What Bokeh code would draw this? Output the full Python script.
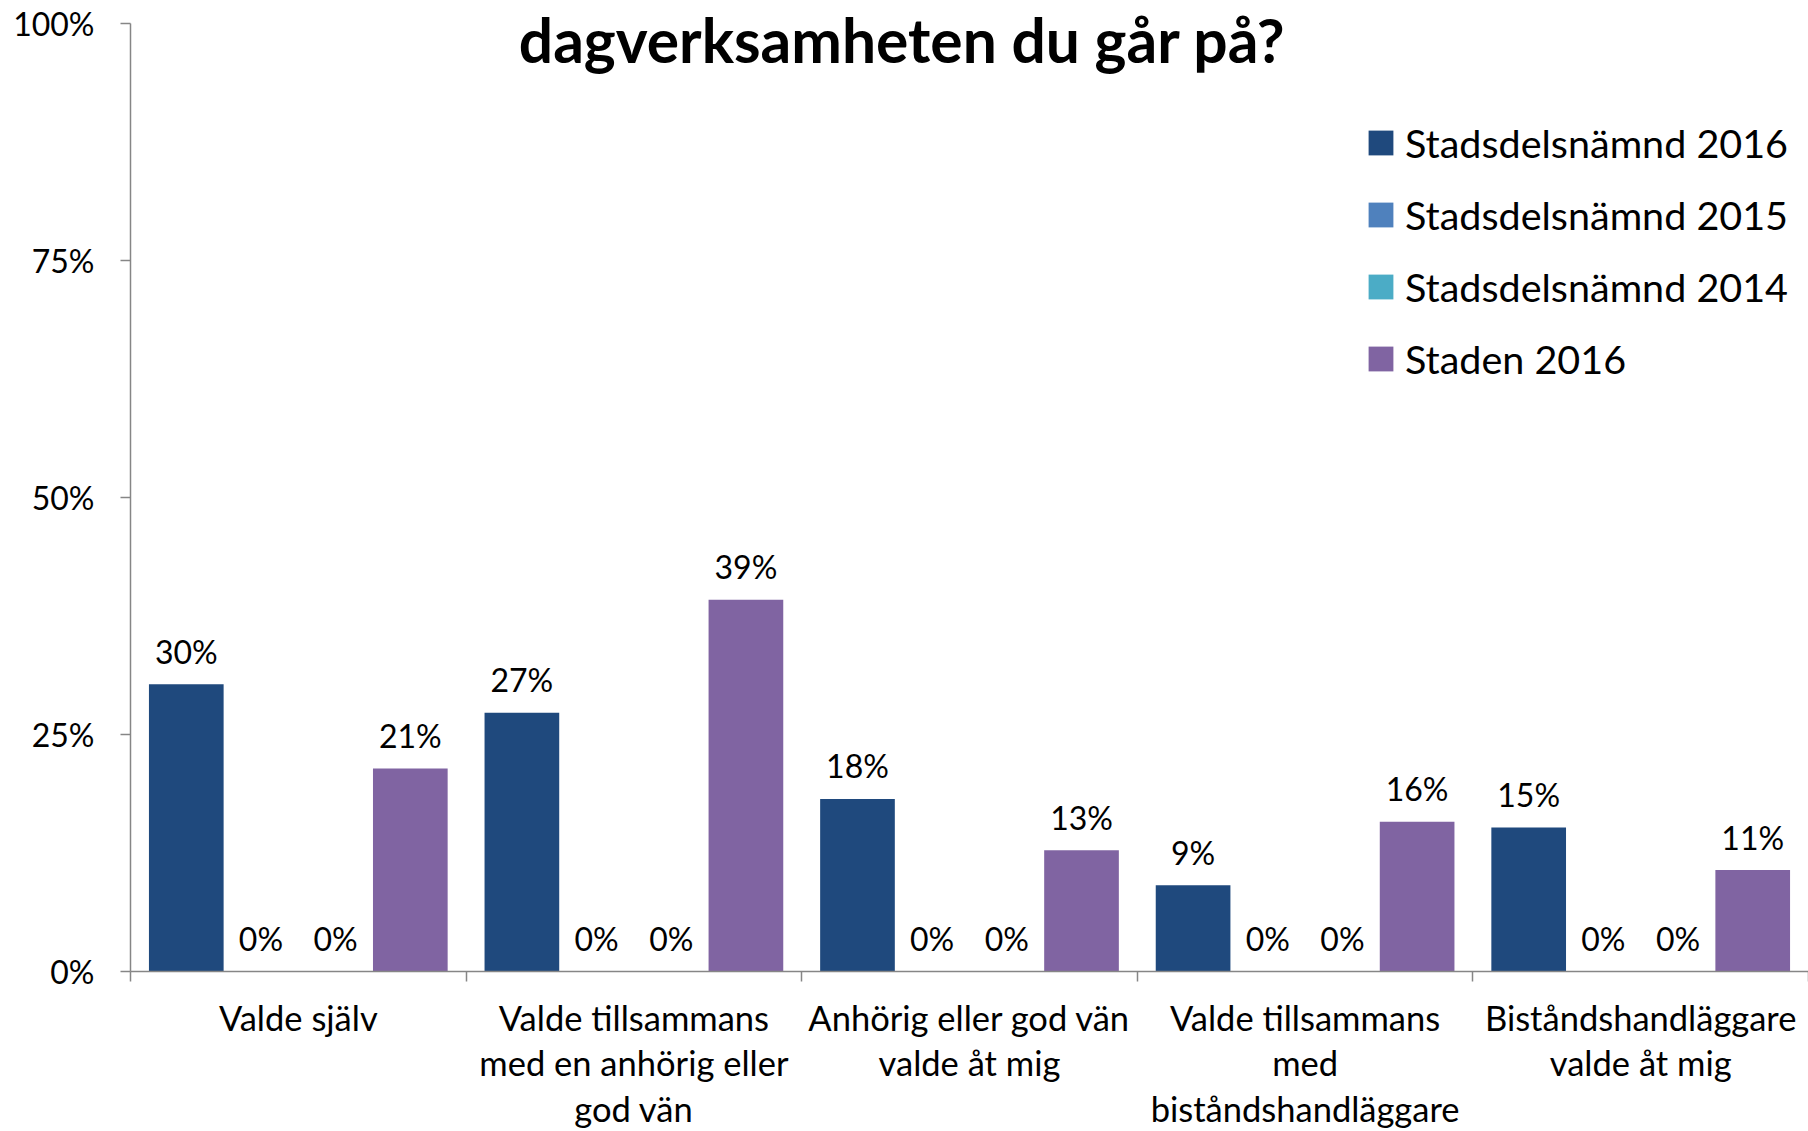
from bokeh.plotting import figure
from bokeh.models import FixedTicker, Legend, LegendItem, Label
from bokeh.core.properties import value
from bokeh.embed import file_html
from bokeh.resources import INLINE

# ---- data ----
categories = [
    "Valde själv",
    "Valde tillsammans\nmed en anhörig eller\ngod vän",
    "Anhörig eller god vän\nvalde åt mig",
    "Valde tillsammans\nmed\nbiståndshandläggare",
    "Biståndshandläggare\nvalde åt mig",
]
series_names = ["Stadsdelsnämnd 2016", "Stadsdelsnämnd 2015", "Stadsdelsnämnd 2014", "Staden 2016"]
sdn_2016 = [0.303, 0.273, 0.182, 0.091, 0.152]
sdn_2015 = [0.0, 0.0, 0.0, 0.0, 0.0]
sdn_2014 = [0.0, 0.0, 0.0, 0.0, 0.0]
staden_2016 = [0.214, 0.392, 0.128, 0.158, 0.107]
y_ticks = [0.0, 0.25, 0.5, 0.75, 1.0]
y_tick_labels = ["0%", "25%", "50%", "75%", "100%"]
title_text = "dagverksamheten du går på?"

colors = ["#1F497D", "#4F81BD", "#4BACC6", "#8064A2"]
FONT = "Lato"
AXIS_COLOR = "#868686"

series = [sdn_2016, sdn_2015, sdn_2014, staden_2016]
n_cat = len(categories)
bar_w = 1 / 4.494

# frame reaches the top of the canvas so the title is not clipped;
# the y axis line itself is bounded to 0..1
p = figure(width=1808, height=1131, x_range=(0, n_cat), y_range=(0, 973 / 950),
           output_backend="svg", toolbar_location=None,
           min_border_left=130, min_border_right=0, min_border_top=0, min_border_bottom=158)
p.outline_line_color = None
p.xgrid.grid_line_color = None
p.ygrid.grid_line_color = None
p.background_fill_color = "white"
p.border_fill_color = "white"

items = []
for k, (name, vals, col) in enumerate(zip(series_names, series, colors)):
    xs = [i + 0.5 + (k - 1.5) * bar_w for i in range(n_cat)]
    r = p.vbar(x=xs, top=vals, width=bar_w, fill_color=col, line_color=None)
    items.append(LegendItem(label=name, renderers=[r]))
    p.text(x=xs, y=vals, text=[f"{round(v * 100)}%" for v in vals],
           text_align="center", text_baseline="alphabetic", y_offset=-33,
           text_font=value(FONT), text_font_size=value("32px"), text_color="black")

legend = Legend(items=items, location=(1235, 589), orientation="vertical",
                glyph_width=31, glyph_height=31, label_standoff=9,
                label_height=24, spacing=25, padding=0, margin=0,
                border_line_color=None, background_fill_alpha=0,
                label_text_font=FONT, label_text_font_size="39.5px",
                label_text_color="black", label_text_baseline="middle")
p.add_layout(legend)

p.add_layout(Label(x=2.30, y=0.9827, text=title_text, text_align="center",
                   text_baseline="alphabetic", text_font=FONT, text_font_style="bold",
                   text_font_size="60.5px", text_color="black"))

# x axis
p.xaxis.ticker = FixedTicker(ticks=[i + 0.5 for i in range(n_cat)],
                             minor_ticks=[float(i) for i in range(n_cat + 1)])
p.xaxis.major_label_overrides = {i + 0.5: c for i, c in enumerate(categories)}
p.xaxis.major_tick_line_color = None
p.xaxis.major_tick_out = 0
p.xaxis.major_tick_in = 0
p.xaxis.minor_tick_line_color = AXIS_COLOR
p.xaxis.minor_tick_line_width = 1.5
p.xaxis.minor_tick_out = 10
p.xaxis.minor_tick_in = 0
p.xaxis.axis_line_color = AXIS_COLOR
p.xaxis.axis_line_width = 1.5
p.xaxis.major_label_text_font = FONT
p.xaxis.major_label_text_font_size = "34.5px"
p.xaxis.major_label_text_line_height = 1.11
p.xaxis.major_label_text_color = "black"
p.xaxis.major_label_standoff = 15

# y axis
p.yaxis.bounds = (0, 1)
p.yaxis.ticker = FixedTicker(ticks=y_ticks)
p.yaxis.major_label_overrides = {t: l for t, l in zip(y_ticks, y_tick_labels)}
p.yaxis.minor_tick_line_color = None
p.yaxis.major_tick_line_color = AXIS_COLOR
p.yaxis.major_tick_line_width = 1.5
p.yaxis.major_tick_out = 10
p.yaxis.major_tick_in = 0
p.yaxis.axis_line_color = AXIS_COLOR
p.yaxis.axis_line_width = 1.5
p.yaxis.major_label_text_font = FONT
p.yaxis.major_label_text_font_size = "32px"
p.yaxis.major_label_text_color = "black"
p.yaxis.major_label_standoff = 26

open("out.html", "w").write(file_html(p, INLINE))
